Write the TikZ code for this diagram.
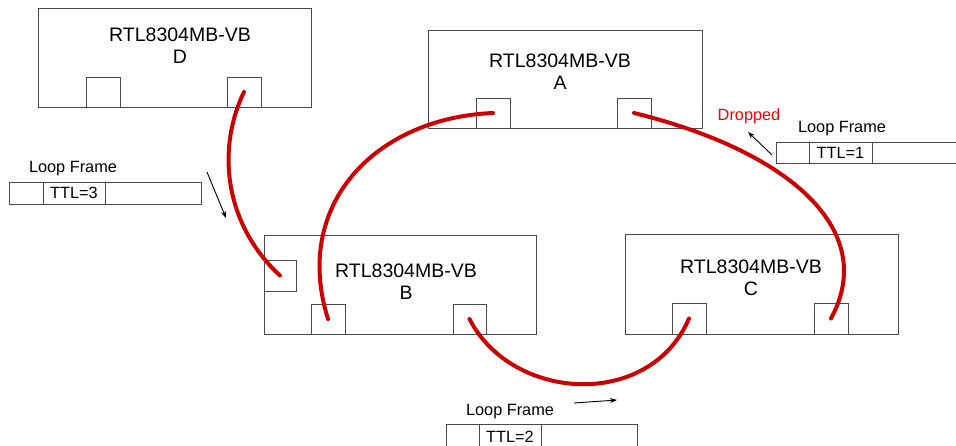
\documentclass[tikz,border=0pt]{standalone}
\usepackage{fontspec}
\setmainfont{Liberation Sans}
\usetikzlibrary{arrows.meta}
\definecolor{linegray}{HTML}{4A4A4A}
\definecolor{loopred}{HTML}{CC0000}
\definecolor{dropred}{HTML}{FF0000}
\tikzset{
  chipbox/.style={draw=linegray, line width=1pt, fill=white, inner sep=0pt, outer sep=0pt, anchor=north west},
  portbox/.style={draw=linegray, line width=1pt, fill=white, inner sep=0pt, outer sep=0pt, anchor=north west, minimum width=34pt, minimum height=30pt},
  chiplabel/.style={align=center, font=\fontsize{19.5}{22}\selectfont, inner sep=0pt},
  smalltext/.style={font=\fontsize{16.3}{18}\selectfont, inner sep=0pt},
  framebox/.style={draw=linegray, line width=1pt, inner sep=0pt, outer sep=0pt, anchor=north west},
  loopline/.style={draw=loopred, line width=4pt, line cap=round},
  hint/.style={draw=black, line width=0.9pt, -{Stealth[length=7pt,width=5pt]}}
}
\begin{document}
\begin{tikzpicture}[x=1pt,y=-1pt]
\useasboundingbox (0,0) rectangle (956,445);
\clip (0,0) rectangle (956,445);
\fill[white] (0,0) rectangle (956,445);

% chip D
\node[chipbox, minimum width=273pt, minimum height=99pt] (D) at (38,8) {};
\node[chiplabel] (Dl) at (180,46) {RTL8304MB-VB\\D};
\node[portbox] (Dp1) at (86,77) {};
\node[portbox] (Dp2) at (227,77) {};

% chip A
\node[chipbox, minimum width=274pt, minimum height=98pt] (A) at (428,30) {};
\node[chiplabel] (Al) at (560,72) {RTL8304MB-VB\\A};
\node[portbox] (Ap1) at (476,98) {};
\node[portbox] (Ap2) at (617,98) {};

% chip B
\node[chipbox, minimum width=272pt, minimum height=99pt] (B) at (264,235) {};
\node[chiplabel] (Bl) at (406,282) {RTL8304MB-VB\\B};
\node[portbox, minimum width=32pt, minimum height=31pt] (Bp1) at (264,260) {};
\node[portbox] (Bp2) at (311,304) {};
\node[portbox, minimum width=33pt] (Bp3) at (453,304) {};

% chip C
\node[chipbox, minimum width=273pt, minimum height=100pt] (C) at (625,234) {};
\node[chiplabel] (Cl) at (751,278) {RTL8304MB-VB\\C};
\node[portbox, minimum height=31pt] (Cp1) at (672,303) {};
\node[portbox, minimum height=31pt] (Cp2) at (814,303) {};

% loop connections
\draw[loopline] (Dp2.center) .. controls (216,150) and (225,225) .. (Bp1.center);
\draw[loopline] (Ap1.center) .. controls (375,118) and (292,205) .. (Bp2.center);
\draw[loopline] (Ap2.center) .. controls (785,150) and (880,228) .. (Cp2.center);
\draw[loopline] (Bp3.center) .. controls (512,402) and (650,410) .. (Cp1.center);

% loop frame TTL=1
\node[smalltext] (F1l) at (842,129) {Loop Frame};
\node[framebox, minimum width=190pt, minimum height=21pt] (F1) at (776,142) {};
\node[framebox, minimum width=63pt, minimum height=21pt] (F1t) at (809,142) {};
\node[smalltext] (F1tl) at (840.5,153) {TTL=1};
\node[smalltext, text=dropred] (Drop) at (749,116) {Dropped};
\coordinate (F1a) at (772,155);
\coordinate (F1b) at (748,132);
\draw[hint] (F1a) -- (F1b);

% loop frame TTL=3
\node[smalltext] (F3l) at (73,169) {Loop Frame};
\node[framebox, minimum width=192pt, minimum height=22pt] (F3) at (9,182) {};
\node[framebox, minimum width=62pt, minimum height=22pt] (F3t) at (43,182) {};
\node[smalltext] (F3tl) at (74,193) {TTL=3};
\coordinate (F3a) at (207,172);
\coordinate (F3b) at (226,218);
\draw[hint] (F3a) -- (F3b);

% loop frame TTL=2
\node[smalltext] (F2l) at (510,412) {Loop Frame};
\node[framebox, minimum width=191pt, minimum height=30pt] (F2) at (446,424) {};
\node[framebox, minimum width=62pt, minimum height=30pt] (F2t) at (479,424) {};
\node[smalltext] (F2tl) at (510,437) {TTL=2};
\coordinate (F2a) at (574,403);
\coordinate (F2b) at (617,400);
\draw[hint] (F2a) -- (F2b);
\end{tikzpicture}
\end{document}
